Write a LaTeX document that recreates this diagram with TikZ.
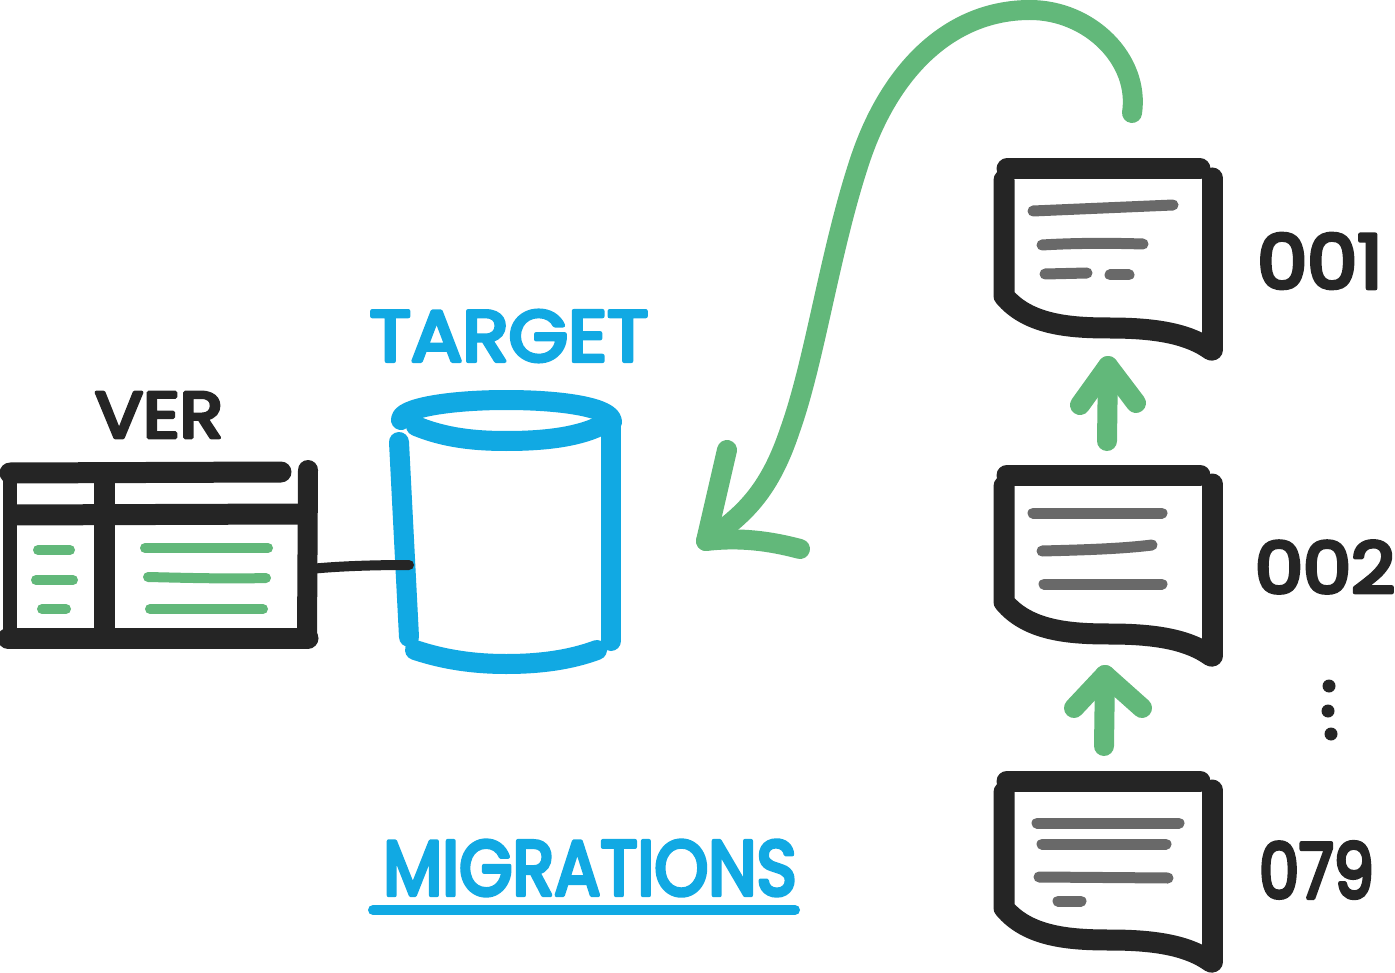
\documentclass[tikz,border=0pt]{standalone}
\usepackage{fontspec}
\usepackage{graphicx}
\newfontfamily\hand[FakeBold=5.5]{Poppins}
\definecolor{ink}{HTML}{252525}
\definecolor{sky}{HTML}{11A9E3}
\definecolor{leaf}{HTML}{62B87A}
\definecolor{slate}{HTML}{696969}
\tikzset{
  pen/.style={line cap=round,line join=round,line width=#1*0.75pt},
  heavy/.style={pen=21,draw=ink},
  bluepen/.style={pen=20,draw=sky},
  greenpen/.style={pen=20,draw=leaf},
  greenthin/.style={pen=10,draw=leaf},
  graythin/.style={pen=11,draw=slate},
  word/.style={inner sep=0pt,outer sep=0pt,font=\hand},
  doc/.pic={
    \draw[heavy] (1004,180) -- (1004,296)
      .. controls (1028,325) and (1070,328) .. (1110,328)
      .. controls (1160,328) and (1190,335) .. (1211,350);
    \draw[heavy] (1212,178) -- (1212,350);
    \draw[heavy] (1007,169) -- (1200,169);
  }
}
\newcommand{\roundjoin}{\special{pdf:code 1 j 1 J}}
\begin{document}
\begin{tikzpicture}[x=0.75pt,y=-0.75pt]
\useasboundingbox (0,0) rectangle (1395,973);
\fill[white] (0,0) rectangle (1395,973);

% documents
\pic at (0,0) {doc};
\pic at (0,306) {doc};
\pic at (0,612) {doc};
\draw[graythin] (1033,211) -- (1173,205);
\draw[graythin] (1042,245) .. controls (1075,243) and (1110,243) .. (1143,244);
\draw[graythin] (1045,274) -- (1087,273);
\draw[graythin] (1110,275) -- (1129,275);
\draw[graythin] (1033,513) -- (1162,513);
\draw[graythin] (1042,551) .. controls (1080,550) and (1120,549) .. (1152,545);
\draw[graythin] (1044,584) -- (1162,584);
\draw[graythin] (1037,823) -- (1179,823);
\draw[graythin] (1042,844) -- (1166,844);
\draw[graythin] (1039,877) -- (1168,878);
\draw[graythin] (1058,901) -- (1081,901);

% labels
\node[word,text=ink] (n001) at (1320,261) {\resizebox{94pt}{41pt}{\roundjoin 001}};
\node[word,text=ink] (n002) at (1325,567) {\resizebox{105pt}{39pt}{\roundjoin 002}};
\node[word,text=ink] (n079) at (1316.5,870) {\resizebox{86pt}{42pt}{\roundjoin 079}};
\node[word,text=sky] (target) at (509,336) {\resizebox{209pt}{38pt}{\roundjoin TARGET}};
\node[word,text=ink] (ver) at (159,415) {\resizebox{96pt}{34pt}{\roundjoin VER}};
\node[word,text=sky] (migr) at (590,868) {\resizebox{310pt}{41pt}{\roundjoin MIGRATIONS}};

\coordinate (ul) at (373,910);
\coordinate (ur) at (795,910);
\draw[pen=10,draw=sky] (ul) -- (ur);

% dots
\fill[ink] (1329,686) circle[radius=6.5];
\fill[ink] (1328,711) circle[radius=6.5];
\fill[ink] (1331,734) circle[radius=6.5];

% small green arrows
\coordinate (a1s) at (1107,441);
\coordinate (a1t) at (1108,366);
\draw[greenpen] (a1s) -- (a1t);
\draw[greenpen] (1080,405) -- (a1t) -- (1136,403);
\coordinate (a2s) at (1104,746);
\coordinate (a2t) at (1105,675);
\draw[greenpen] (a2s) -- (a2t);
\draw[greenpen] (1074,708) -- (a2t) -- (1142,708);

% big green arrow
\coordinate (bs) at (1132,113);
\coordinate (bt) at (706,541);
\draw[greenpen] (bs) .. controls (1140,60) and (1090,10) .. (1030,10)
  .. controls (950,10) and (890,70) .. (860,160)
  .. controls (830,250) and (815,360) .. (790,430)
  .. controls (770,490) and (745,515) .. (bt);
\draw[greenpen] (727,450) -- (bt) .. controls (740,537) and (770,541) .. (800,549);

% table
\draw[heavy,line cap=butt,line width=14*0.75pt] (10,470) -- (10,640);
\draw[heavy,line cap=butt,line width=21*0.75pt] (104.5,472) -- (104.5,638);
\draw[heavy,pen=20] (308,470) -- (307,638);
\draw[heavy] (10,473) -- (281,472);
\draw[heavy,line cap=butt] (10,515) -- (300,514);
\draw[heavy] (8,638) -- (308,638);
\draw[greenthin] (38,550) -- (70,550);
\draw[greenthin] (36,580) -- (73,580);
\draw[greenthin] (42,609) -- (66,609);
\draw[greenthin] (145,548) -- (268,548);
\draw[greenthin] (148,577) .. controls (190,578) and (230,579) .. (266,578);
\draw[greenthin] (150,609) -- (263,609);

% cylinder
\draw[bluepen] (401,420) .. controls (400,408) and (450,400) .. (506,400)
  .. controls (565,400) and (612,408) .. (612,422);
\draw[bluepen] (416,426) .. controls (445,438) and (475,441) .. (506,441)
  .. controls (540,441) and (575,438) .. (600,426);
\draw[bluepen] (399,442) -- (409,637);
\draw[bluepen] (611,422) -- (611,641);
\draw[bluepen] (415,650) .. controls (445,660) and (475,664) .. (506,664)
  .. controls (540,664) and (570,660) .. (597,650);

% connector
\coordinate (cl) at (310,569);
\coordinate (cr) at (409,565);
\draw[pen=10,draw=ink] (cl) .. controls (340,566) and (375,565) .. (cr);
\end{tikzpicture}
\end{document}
